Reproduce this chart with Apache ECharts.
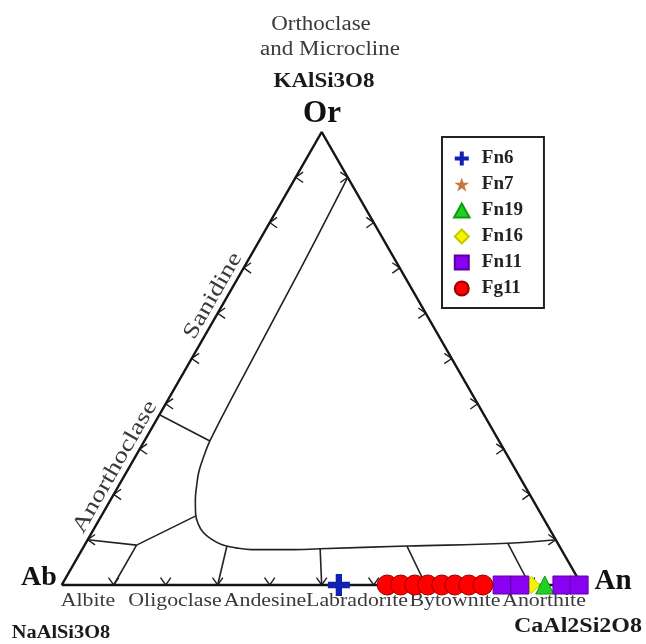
<!DOCTYPE html>
<html>
<head>
<meta charset="utf-8">
<script src="https://cdn.jsdelivr.net/npm/echarts@6.0.0/dist/echarts.min.js"></script>
<style>
html,body{margin:0;padding:0;background:#fff;}
#chart{width:646px;height:644px;}
</style>
</head>
<body>
<div id="chart"></div>
<script>
// ---------- DATA (ternary compositions as [An, Or]; Ab = 1 - An - Or) ----------
const seriesNames = ['Fn6', 'Fn7', 'Fn19', 'Fn16', 'Fn11', 'Fg11'];
const fn6  = [[0.533, 0.0]];
const fn7  = [[0.962, 0.0]];
const fn19 = [[0.929, 0.0]];
const fn16 = [[0.903, 0.0]];
const fn11 = [[0.847, 0.0], [0.881, 0.0], [0.962, 0.0], [0.995, 0.0]];
const fg11 = [[0.626, 0.0], [0.652, 0.0], [0.679, 0.0], [0.704, 0.0], [0.731, 0.0], [0.756, 0.0], [0.783, 0.0], [0.810, 0.0]];

const tickValues = [0.1, 0.2, 0.3, 0.4, 0.5, 0.6, 0.7, 0.8, 0.9];

const triangleVertices = [[0, 0], [1, 0], [0, 1], [0, 0]]; // Ab, An, Or, Ab

// feldspar field boundary
const fieldBoundary = [
  [0.100, 0.900], [0.110, 0.703], [0.121, 0.408], [0.126, 0.318], [0.132, 0.280],
  [0.139, 0.249], [0.150, 0.219], [0.163, 0.188], [0.179, 0.157], [0.195, 0.135],
  [0.213, 0.117], [0.236, 0.102], [0.264, 0.089], [0.294, 0.082], [0.327, 0.078],
  [0.400, 0.078], [0.457, 0.080], [0.621, 0.086], [0.812, 0.092], [0.900, 0.100]
];

// sub-division lines
const branchLines = [
  [[0.126, 0.318], [0.000, 0.376]],
  [[0.181, 0.152], [0.100, 0.088]],
  [[0.100, 0.088], [0.000, 0.100]],
  [[0.100, 0.088], [0.100, 0.000]],
  [[0.275, 0.085], [0.300, 0.000]],
  [[0.457, 0.080], [0.500, 0.000]],
  [[0.621, 0.086], [0.700, 0.000]],
  [[0.812, 0.092], [0.900, 0.000]]
];

const bottomLabels = ['Albite', 'Oligoclase', 'Andesine', 'Labradorite', 'Bytownite', 'Anorthite'];
const edgeLabels = ['Sanidine', 'Anorthoclase'];

// ---------- helpers ----------
const toXY = p => [p[0] + p[1] * 0.5, p[1]];

const SERIF = '"Liberation Serif", "Times New Roman", serif';

const ICONS = {
  cross: 'path://M5,0H9V5H14V9H9V14H5V9H0V5H5Z',
  star: 'path://M50,0L61.8,35.3L99,35.3L68.8,57.1L80.3,92.7L50,70.6L19.7,92.7L31.2,57.1L1,35.3L38.2,35.3Z',
  triangle: 'path://M50,0L100,90L0,90Z',
  diamond: 'path://M50,0L100,50L50,100L0,50Z',
  square: 'path://M0,0H100V100H0Z',
  circle: 'circle'
};

const tickData = [];
tickValues.forEach(t => {
  tickData.push(toXY([t, 0]).concat([0]));       // Ab-An edge
  tickData.push(toXY([0, t]).concat([1]));       // Ab-Or edge
  tickData.push(toXY([1 - t, t]).concat([2]));   // An-Or edge
});

function scatterSeries(name, data, symbol, size, color, border, z) {
  return {
    name: name, type: 'scatter', clip: false, z: z,
    symbol: symbol, symbolSize: size, symbolKeepAspect: true,
    itemStyle: { color: color, borderColor: border, borderWidth: border ? 1 : 0, opacity: 1 },
    emphasis: { disabled: true },
    data: data.map(toXY)
  };
}

function txt(text, x, y, size, opts) {
  opts = opts || {};
  return {
    type: 'text', x: x, y: y, z: 0,
    rotation: opts.rotation || 0,
    scaleX: opts.scaleX || 1,
    style: {
      text: text, x: 0, y: 0,
      font: (opts.bold ? 'bold ' : '') + size + 'px ' + SERIF,
      fill: opts.color || '#3a3a3a',
      textAlign: 'center', textVerticalAlign: 'middle'
    }
  };
}

const chart = echarts.init(document.getElementById('chart'), null, { renderer: 'canvas' });

const rot = 60.15 * Math.PI / 180;
const option = {
  backgroundColor: '#ffffff',
  animation: false,
  grid: { left: 61.7, right: 64.3, top: 132, bottom: 59 },
  xAxis: { type: 'value', min: 0, max: 1, show: false },
  yAxis: { type: 'value', min: 0, max: 1, show: false },
  legend: {
    orient: 'vertical', left: 442, top: 137,
    padding: [12, 21, 10, 11],
    itemWidth: 30, itemHeight: 14, itemGap: 7,
    borderColor: '#222', borderWidth: 2, backgroundColor: '#fff',
    textStyle: { fontFamily: SERIF, fontWeight: 'bold', fontSize: 19, color: '#222' },
    selectedMode: false,
    data: [
      { name: 'Fn6', icon: ICONS.cross },
      { name: 'Fn7', icon: ICONS.star },
      { name: 'Fn19', icon: ICONS.triangle },
      { name: 'Fn16', icon: ICONS.diamond },
      { name: 'Fn11', icon: ICONS.square },
      { name: 'Fg11', icon: ICONS.circle }
    ]
  },
  graphic: [
    txt('Orthoclase', 321, 25, 20, { scaleX: 1.15 }),
    txt('and Microcline', 330, 50, 20, { scaleX: 1.15 }),
    txt('KAlSi3O8', 324, 82, 20, { bold: true, color: '#1a1a1a', scaleX: 1.15 }),
    txt('Or', 322, 114, 31, { bold: true, color: '#111' }),
    txt('Ab', 39, 578, 28, { bold: true, color: '#111' }),
    txt('An', 613, 582, 29, { bold: true, color: '#111' }),
    txt('NaAlSi3O8', 61, 633, 18, { bold: true, color: '#1a1a1a', scaleX: 1.13 }),
    txt('CaAl2Si2O8', 578, 627, 20, { bold: true, color: '#1a1a1a', scaleX: 1.2 }),
    txt(bottomLabels[0], 88, 601, 19, { scaleX: 1.15 }),
    txt(bottomLabels[1], 175, 601, 19, { scaleX: 1.15 }),
    txt(bottomLabels[2], 265, 601, 19, { scaleX: 1.15 }),
    txt(bottomLabels[3], 357, 601, 19, { scaleX: 1.15 }),
    txt(bottomLabels[4], 455, 601, 19, { scaleX: 1.15 }),
    txt(bottomLabels[5], 544, 601, 19, { scaleX: 1.15 }),
    txt(edgeLabels[0], 213, 296, 22, { rotation: rot, scaleX: 1.25 }),
    txt(edgeLabels[1], 115, 467, 22, { rotation: rot, scaleX: 1.27 })
  ],
  series: [
    {
      type: 'line', name: 'frame', clip: false, silent: true, z: 1,
      symbol: 'none', lineStyle: { color: '#151515', width: 2.5 },
      data: triangleVertices.map(toXY)
    },
    {
      type: 'line', name: 'boundary', clip: false, silent: true, z: 1,
      symbol: 'none', smooth: 0.4, lineStyle: { color: '#222', width: 1.6 },
      data: fieldBoundary.map(toXY)
    },
    {
      type: 'lines', name: 'divisions', coordinateSystem: 'cartesian2d', polyline: true,
      silent: true, z: 1,
      lineStyle: { color: '#222', width: 1.6, opacity: 1 },
      data: branchLines.map(l => ({ coords: l.map(toXY) }))
    },
    {
      type: 'custom', name: 'ticks', coordinateSystem: 'cartesian2d', silent: true, z: 1,
      encode: { x: 0, y: 1 },
      data: tickData,
      renderItem: function (params, api) {
        const p = api.coord([api.value(0), api.value(1)]);
        const e = api.value(2);
        const d = e === 0 ? [0, 1] : (e === 1 ? [-1, 0] : [1, 0]);
        const L = 9, a = 35 * Math.PI / 180;
        const ix = -d[0], iy = -d[1];
        const c = Math.cos(a), s = Math.sin(a);
        const a1 = [p[0] + L * (ix * c - iy * s), p[1] + L * (ix * s + iy * c)];
        const a2 = [p[0] + L * (ix * c + iy * s), p[1] + L * (-ix * s + iy * c)];
        return { type: 'polyline', shape: { points: [a1, p, a2] }, style: { stroke: '#222', lineWidth: 1.4, fill: null } };
      }
    },
    scatterSeries('Fn7', fn7, ICONS.star, 14, '#c8783c', null, 3),
    scatterSeries('Fn16', fn16, 'diamond', 17, '#f4f400', '#c8c800', 4),
    scatterSeries('Fn19', fn19, 'triangle', 18, '#22d022', '#119911', 5),
    scatterSeries('Fn11', fn11, 'rect', 18, '#8a00f0', '#5a00a0', 6),
    scatterSeries('Fg11', fg11, 'circle', 20, '#ff0000', '#990000', 7),
    scatterSeries('Fn6', fn6, ICONS.cross, 22, '#1020b0', null, 8)
  ]
};
chart.setOption(option);
</script>
</body>
</html>
